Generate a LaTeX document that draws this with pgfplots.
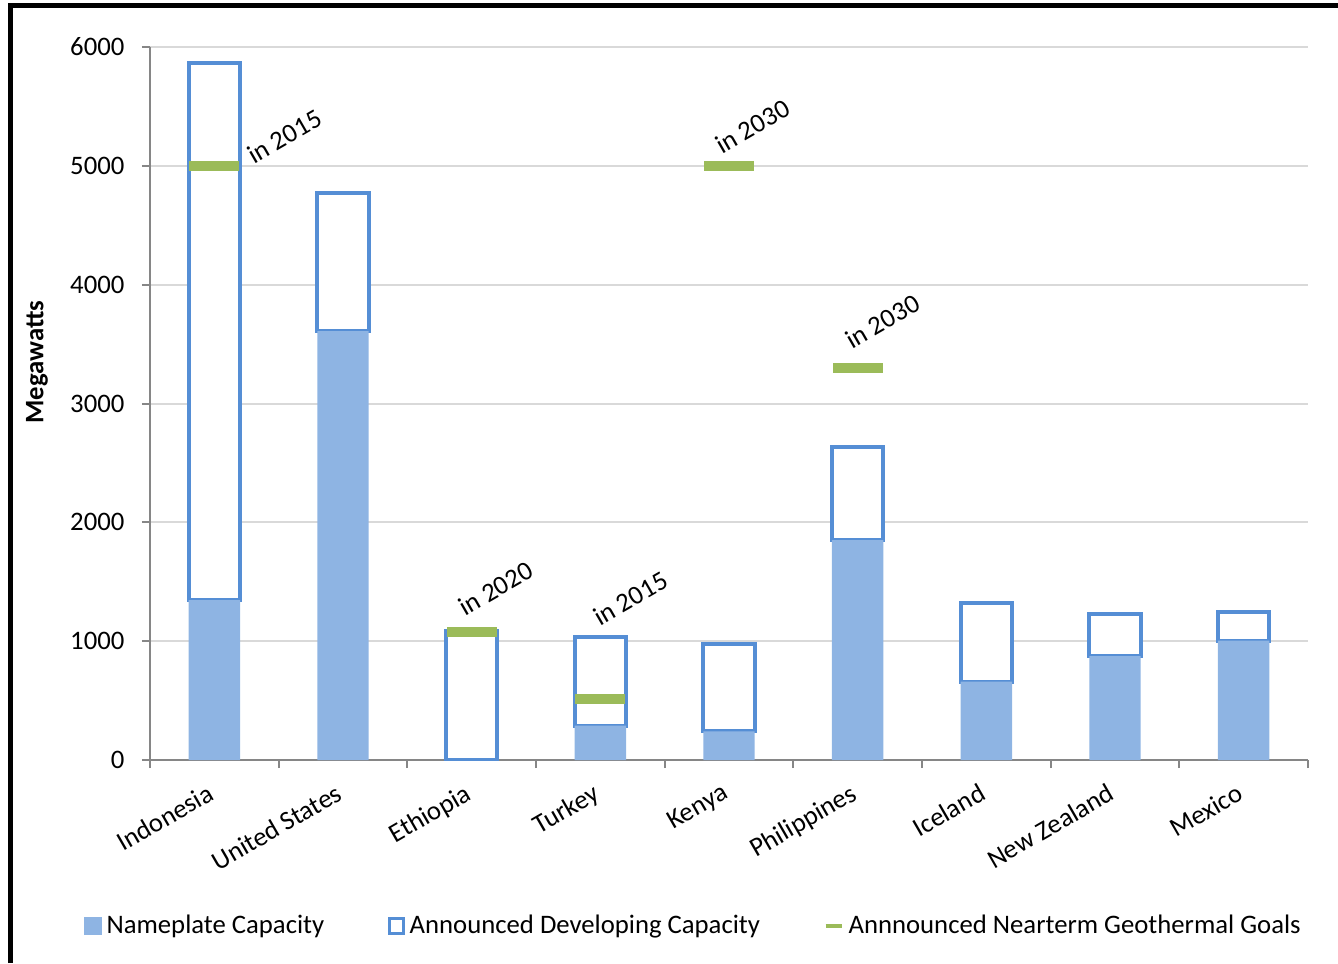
\documentclass[border=0pt]{standalone}
\usepackage{pgfplots}
\pgfplotsset{compat=1.18}
\usepackage{fontspec}
\setmainfont{Carlito}
\definecolor{nameplate}{HTML}{8EB4E3}
\definecolor{devblue}{HTML}{558ED5}
\definecolor{goalgreen}{HTML}{9BBB59}
\definecolor{gridgray}{HTML}{D9D9D9}
\definecolor{axisgray}{HTML}{868686}

\pgfplotsset{
  frame geometry/.style={
    at={(1.50cm,2.03cm)}, anchor=south west,
    width=11.58cm, height=7.13cm, scale only axis,
    xmin=-0.5, xmax=8.5, ymin=0, ymax=6000,
  },
}
\tikzset{year label/.style={rotate=30, anchor=base west, inner sep=0pt, xshift=0.06cm, yshift=-0.03cm}}

\begin{document}
\fontsize{7.6}{9.1}\selectfont
\begin{tikzpicture}
\path[use as bounding box] (0,0) rectangle (13.38,9.63);
\draw[black, line width=0.05cm] (0.10,0) -- (0.10,9.575) -- (13.38,9.575);

\begin{axis}[
  frame geometry,
  ybar stacked, bar width=0.40,
  axis x line*=bottom, axis y line*=left,
  axis line style={draw=axisgray, line width=0.02cm},
  ytick={0,1000,...,6000},
  ymajorgrids, grid style={gridgray, line width=0.02cm},
  xtick={0,...,8},
  xticklabels={Indonesia,United States,Ethiopia,Turkey,Kenya,Philippines,Iceland,New Zealand,Mexico},
  minor xtick={-0.5,0.5,...,8.5},
  major x tick style={draw=none},
  tick align=outside,
  tick style={axisgray, line width=0.02cm},
  major tick length=0.08cm, minor tick length=0.08cm,
  /pgf/number format/assume math mode=true,
  scaled y ticks=false,
  yticklabel style={/pgf/number format/1000 sep={}, xshift=-0.08cm},
  xticklabel style={rotate=30, anchor=north east, xshift=-0.05cm, yshift=0.01cm},
  ylabel={\bfseries Megawatts},
  every axis y label/.style={at={(axis description cs:-0.0976,0.558)}, rotate=90, anchor=center},
  legend columns=3,
  legend style={at={(axis description cs:-0.058,-0.233)}, anchor=west,
    draw=none, fill=none, inner sep=0pt,
    /tikz/every even column/.append style={column sep=0.585cm},
    nodes={inner xsep=0.05cm, inner ysep=0pt}},
]
\addplot[fill=nameplate, draw=none,
  legend image code/.code={\fill[nameplate] (0cm,-0.09cm) rectangle (0.18cm,0.09cm);}]
  coordinates {(0,1345) (1,3610) (2,0) (3,290) (4,240) (5,1850) (6,660) (7,875) (8,1005)};
\addlegendentry{Nameplate Capacity}
\addplot[fill=white, draw=devblue, line width=0.04cm,
  legend image code/.code={\draw[devblue, fill=white, line width=0.03cm] (0.015cm,-0.075cm) rectangle (0.155cm,0.075cm);}]
  coordinates {(0,4520) (1,1160) (2,1085) (3,745) (4,735) (5,785) (6,665) (7,355) (8,240)};
\addlegendentry{Announced Developing Capacity}
\addlegendimage{legend image code/.code={\draw[goalgreen, line width=0.04cm] (0cm,0cm) -- (0.16cm,0cm);}}
\addlegendentry{Annnounced Nearterm Geothermal Goals}
\end{axis}

\begin{axis}[frame geometry, hide axis, clip=false]
\addplot[only marks, mark=-, mark size=0.25cm, mark options={line width=0.1cm, draw=goalgreen}]
  coordinates {(0,5000) (2,1075) (3,510) (4,5000) (5,3300)};
\node[year label] at (axis cs:0.254,5007) {in 2015};
\node[year label] at (axis cs:1.894,1203) {in 2020};
\node[year label] at (axis cs:2.943,1119) {in 2015};
\node[year label] at (axis cs:3.891,5091) {in 2030};
\node[year label] at (axis cs:4.901,3450) {in 2030};
\end{axis}
\end{tikzpicture}
\end{document}
